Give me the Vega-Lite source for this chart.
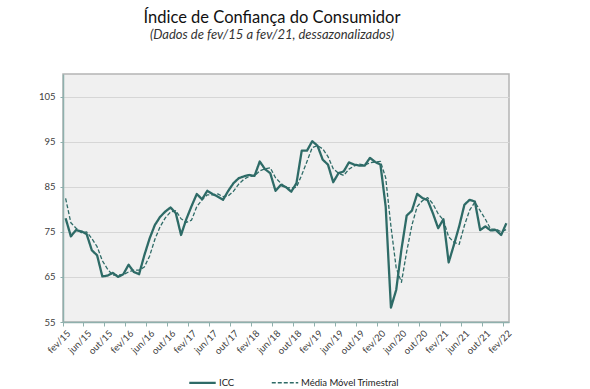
{
  "$schema": "https://vega.github.io/schema/vega-lite/v6.json",
  "width": 446,
  "height": 248,
  "autosize": {"type": "none"},
  "padding": {"left": 63, "top": 74, "right": 81, "bottom": 67},
  "background": "white",
  "title": {
    "text": "Índice de Confiança do Consumidor",
    "subtitle": "(Dados de fev/15 a fev/21, dessazonalizados)",
    "anchor": "middle",
    "dx": -14,
    "offset": 32,
    "font": "Lato",
    "fontSize": 16.5,
    "fontWeight": "normal",
    "color": "#111111",
    "subtitleFont": "Lato",
    "subtitleFontSize": 13,
    "subtitleFontStyle": "italic",
    "subtitleColor": "#333333",
    "subtitlePadding": 3
  },
  "config": {
    "view": {"fill": "#F0F0F0", "stroke": "#B4B4B4", "strokeWidth": 1.5},
    "axis": {"labelFont": "Lato", "labelColor": "#404040", "labelFontSize": 9.5}
  },
  "data": {
    "values": [
      {"mes": "fev/15", "ICC": 78.0, "MM": 82.4},
      {"mes": "mar/15", "ICC": 74.0, "MM": 77.0},
      {"mes": "abr/15", "ICC": 75.4, "MM": 75.8},
      {"mes": "mai/15", "ICC": 75.1, "MM": 74.8},
      {"mes": "jun/15", "ICC": 74.5, "MM": 75.0},
      {"mes": "jul/15", "ICC": 70.9, "MM": 73.5},
      {"mes": "ago/15", "ICC": 69.8, "MM": 71.7},
      {"mes": "set/15", "ICC": 65.1, "MM": 68.6},
      {"mes": "out/15", "ICC": 65.3, "MM": 66.7},
      {"mes": "nov/15", "ICC": 65.9, "MM": 65.4},
      {"mes": "dez/15", "ICC": 65.0, "MM": 65.4},
      {"mes": "jan/16", "ICC": 65.6, "MM": 65.5},
      {"mes": "fev/16", "ICC": 67.7, "MM": 66.1},
      {"mes": "mar/16", "ICC": 66.1, "MM": 66.5},
      {"mes": "abr/16", "ICC": 65.6, "MM": 66.5},
      {"mes": "mai/16", "ICC": 69.8, "MM": 67.2},
      {"mes": "jun/16", "ICC": 73.5, "MM": 69.6},
      {"mes": "jul/16", "ICC": 76.5, "MM": 73.3},
      {"mes": "ago/16", "ICC": 78.3, "MM": 76.1},
      {"mes": "set/16", "ICC": 79.5, "MM": 78.1},
      {"mes": "out/16", "ICC": 80.4, "MM": 79.4},
      {"mes": "nov/16", "ICC": 79.1, "MM": 79.7},
      {"mes": "dez/16", "ICC": 74.3, "MM": 77.9},
      {"mes": "jan/17", "ICC": 77.8, "MM": 77.1},
      {"mes": "fev/17", "ICC": 80.7, "MM": 77.6},
      {"mes": "mar/17", "ICC": 83.4, "MM": 80.6},
      {"mes": "abr/17", "ICC": 82.2, "MM": 82.1},
      {"mes": "mai/17", "ICC": 84.1, "MM": 83.2},
      {"mes": "jun/17", "ICC": 83.4, "MM": 83.2},
      {"mes": "jul/17", "ICC": 82.8, "MM": 83.4},
      {"mes": "ago/17", "ICC": 82.1, "MM": 82.8},
      {"mes": "set/17", "ICC": 84.1, "MM": 83.0},
      {"mes": "out/17", "ICC": 85.8, "MM": 84.0},
      {"mes": "nov/17", "ICC": 86.9, "MM": 85.6},
      {"mes": "dez/17", "ICC": 87.3, "MM": 86.7},
      {"mes": "jan/18", "ICC": 87.6, "MM": 87.3},
      {"mes": "fev/18", "ICC": 87.4, "MM": 87.4},
      {"mes": "mar/18", "ICC": 90.6, "MM": 88.5},
      {"mes": "abr/18", "ICC": 88.9, "MM": 89.0},
      {"mes": "mai/18", "ICC": 88.0, "MM": 89.2},
      {"mes": "jun/18", "ICC": 84.1, "MM": 87.0},
      {"mes": "jul/18", "ICC": 85.4, "MM": 85.8},
      {"mes": "ago/18", "ICC": 84.9, "MM": 84.8},
      {"mes": "set/18", "ICC": 83.9, "MM": 84.7},
      {"mes": "out/18", "ICC": 85.8, "MM": 84.9},
      {"mes": "nov/18", "ICC": 93.0, "MM": 87.6},
      {"mes": "dez/18", "ICC": 93.0, "MM": 90.6},
      {"mes": "jan/19", "ICC": 95.1, "MM": 93.7},
      {"mes": "fev/19", "ICC": 94.1, "MM": 94.1},
      {"mes": "mar/19", "ICC": 91.0, "MM": 93.4},
      {"mes": "abr/19", "ICC": 89.9, "MM": 91.7},
      {"mes": "mai/19", "ICC": 86.0, "MM": 89.0},
      {"mes": "jun/19", "ICC": 88.0, "MM": 88.0},
      {"mes": "jul/19", "ICC": 88.4, "MM": 87.5},
      {"mes": "ago/19", "ICC": 90.4, "MM": 88.9},
      {"mes": "set/19", "ICC": 89.9, "MM": 89.6},
      {"mes": "out/19", "ICC": 89.7, "MM": 90.0},
      {"mes": "nov/19", "ICC": 89.7, "MM": 89.8},
      {"mes": "dez/19", "ICC": 91.4, "MM": 90.3},
      {"mes": "jan/20", "ICC": 90.5, "MM": 90.5},
      {"mes": "fev/20", "ICC": 89.9, "MM": 90.6},
      {"mes": "mar/20", "ICC": 80.6, "MM": 87.0},
      {"mes": "abr/20", "ICC": 58.2, "MM": 76.2},
      {"mes": "mai/20", "ICC": 62.1, "MM": 67.0},
      {"mes": "jun/20", "ICC": 71.1, "MM": 63.8},
      {"mes": "jul/20", "ICC": 78.6, "MM": 70.6},
      {"mes": "ago/20", "ICC": 79.7, "MM": 76.5},
      {"mes": "set/20", "ICC": 83.4, "MM": 80.6},
      {"mes": "out/20", "ICC": 82.5, "MM": 81.9},
      {"mes": "nov/20", "ICC": 82.0, "MM": 82.6},
      {"mes": "dez/20", "ICC": 79.1, "MM": 81.2},
      {"mes": "jan/21", "ICC": 75.8, "MM": 79.0},
      {"mes": "fev/21", "ICC": 77.8, "MM": 77.6},
      {"mes": "mar/21", "ICC": 68.2, "MM": 73.9},
      {"mes": "abr/21", "ICC": 72.1, "MM": 72.7},
      {"mes": "mai/21", "ICC": 76.2, "MM": 72.2},
      {"mes": "jun/21", "ICC": 81.0, "MM": 76.4},
      {"mes": "jul/21", "ICC": 82.1, "MM": 79.8},
      {"mes": "ago/21", "ICC": 81.7, "MM": 81.6},
      {"mes": "set/21", "ICC": 75.4, "MM": 79.7},
      {"mes": "out/21", "ICC": 76.2, "MM": 77.8},
      {"mes": "nov/21", "ICC": 75.3, "MM": 75.6},
      {"mes": "dez/21", "ICC": 75.4, "MM": 75.6},
      {"mes": "jan/22", "ICC": 74.3, "MM": 75.0},
      {"mes": "fev/22", "ICC": 76.9, "MM": 75.5}
    ]
  },
  "transform": [{"fold": ["ICC", "MM"], "as": ["serie", "valor"]}],
  "mark": {"type": "line", "color": "#2E6B67", "strokeJoin": "round"},
  "encoding": {
    "x": {
      "field": "mes",
      "type": "ordinal",
      "sort": null,
      "scale": {"type": "band", "paddingInner": 0, "paddingOuter": 0},
      "axis": {
        "values": ["fev/15", "jun/15", "out/15", "fev/16", "jun/16", "out/16", "fev/17", "jun/17", "out/17", "fev/18", "jun/18", "out/18", "fev/19", "jun/19", "out/19", "fev/20", "jun/20", "out/20", "fev/21", "jun/21", "out/21", "fev/22"],
        "bandPosition": 0,
        "labelAngle": -45,
        "labelAlign": "right",
        "labelBaseline": "top",
        "labelPadding": 2,
        "title": null,
        "grid": false,
        "domainColor": "#8FB0AD",
        "domainWidth": 1.5,
        "tickColor": "#8FB0AD",
        "tickSize": 4
      }
    },
    "y": {
      "field": "valor",
      "type": "quantitative",
      "scale": {"domain": [55, 110], "nice": false, "zero": false},
      "axis": {
        "values": [55, 65, 75, 85, 95, 105],
        "title": null,
        "grid": true,
        "gridColor": "#D6D6D6",
        "gridWidth": 1.2,
        "domainColor": "#8FB0AD",
        "domainWidth": 1.5,
        "tickColor": "#8FB0AD",
        "tickSize": 3,
        "labelPadding": 5
      }
    },
    "strokeDash": {
      "field": "serie",
      "type": "nominal",
      "scale": {"domain": ["ICC", "MM"], "range": [[1, 0], [4, 2]]},
      "legend": {
        "orient": "none",
        "legendX": 125,
        "legendY": 294,
        "direction": "horizontal",
        "title": null,
        "symbolType": "stroke",
        "symbolSize": 700,
        "symbolStrokeColor": "#2E6B67",
        "labelFont": "Lato",
        "labelFontSize": 9.5,
        "labelColor": "#222222",
        "labelOffset": 2,
        "columnPadding": 34,
        "labelExpr": "datum.label == 'MM' ? 'Média Móvel Trimestral' : datum.label"
      }
    },
    "strokeWidth": {
      "field": "serie",
      "type": "nominal",
      "scale": {"domain": ["ICC", "MM"], "range": [2.3, 1.3]},
      "legend": {
        "orient": "none",
        "legendX": 125,
        "legendY": 294,
        "direction": "horizontal",
        "title": null,
        "symbolType": "stroke",
        "symbolSize": 700,
        "symbolStrokeColor": "#2E6B67",
        "labelFont": "Lato",
        "labelFontSize": 9.5,
        "labelColor": "#222222",
        "labelOffset": 2,
        "columnPadding": 34,
        "labelExpr": "datum.label == 'MM' ? 'Média Móvel Trimestral' : datum.label"
      }
    }
  }
}
